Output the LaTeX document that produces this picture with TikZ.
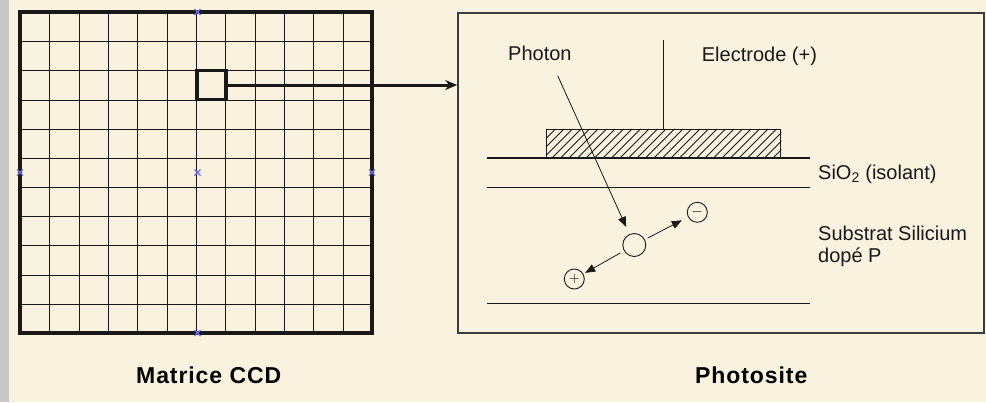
\documentclass[tikz,border=0pt]{standalone}
\usepackage{fontspec}
\setmainfont{Liberation Sans}
\usetikzlibrary{arrows.meta, positioning}
\definecolor{paper}{RGB}{249,242,222}
\definecolor{strip}{RGB}{200,200,200}
\definecolor{handle}{RGB}{110,110,240}
\definecolor{ink}{RGB}{25,25,25}

\begin{document}
\begin{tikzpicture}[x=1pt, y=-1pt,
    tag/.style={inner sep=0pt, anchor=base west, font=\fontsize{20}{22}\selectfont, text=ink},
    heading/.style={inner sep=0pt, anchor=base west,
                    font=\fontsize{23}{26}\selectfont\bfseries\addfontfeature{LetterSpace=4}},
    grid line/.style={line width=1.3pt, draw=ink},
    layer/.style={line width=1.1pt, draw=ink},
    charge/.style={draw=ink, circle, line width=0.9pt, inner sep=0pt, minimum size=20pt,
                   font=\fontsize{14}{14}\selectfont},
    carrier/.style={-{Triangle[length=10pt,width=8pt]}, line width=0.8pt, draw=ink},
    >=Stealth
  ]
    \useasboundingbox (0,0) rectangle (986,402);
    \fill[paper] (0,0) rectangle (986,402);
    \fill[strip] (0,0) rectangle (9,402);

    % CCD matrix, lines snapped to pixel centres
    \foreach \i in {1,...,11}
      \draw[grid line] ({round(20+\i*352/12)+0.5},12) -- ++(0,321);
    \foreach \j in {1,...,10}
      \draw[grid line] (20,{round(12+\j*321/11)+0.5}) -- ++(352,0);
    \draw[line width=3.6pt, draw=ink] (20,12) rectangle (372,333);
    \node[draw=ink, line width=3.2pt, minimum size=29pt, inner sep=0pt] (cell) at (211.5,85) {};
    \foreach \p in {(197.5,12),(20,172.5),(197.5,172.5),(372,172.5),(197.5,333)}
      \draw[handle, line width=1.1pt] \p +(-3,-3) -- +(3,3) +(-3,3) -- +(3,-3);
    \node[heading] (matrix) at (136,383) {Matrice CCD};

    % photosite
    \node[draw=ink!85, line width=1.6pt, minimum width=526pt, minimum height=320pt,
          inner sep=0pt] (site) at (721,172.7) {};
    \draw[line width=3pt, draw=ink, -{Stealth[length=12pt,width=10pt]}]
      (cell.east) -- (cell.east -| site.west);

    \draw[layer] (487,158) -- (810,158);
    \draw[layer] (487,187.5) -- (810,187.5);
    \draw[layer] (487,303.5) -- (810,303.5);

    \node[draw=ink, line width=1.1pt, fill=paper, minimum width=234pt, minimum height=28.7pt,
          inner sep=0pt] (gate) at (663.7,143.6) {};
    \begin{scope}
      \clip (gate.south west) rectangle (gate.north east);
      \foreach \x in {518,526.5,...,790}
        \draw[line width=0.8pt, ink] (\x,158) -- ++(29,-29);
    \end{scope}
    \draw[line width=1.1pt, ink] (gate.north) -- ++(0,-88.6);

    \node[tag] (photon) at (508,60.7) {Photon};
    \node[tag] (electrode) at (701.7,61.5) {Electrode (+)};
    \node[tag] (oxide) at (818,179.5) {SiO\textsubscript{2} (isolant)};
    \node[tag] (substrate) at (818,240) {Substrat Silicium};
    \node[tag] (doping) at ([yshift=-22pt]substrate.base west) {dopé P};

    \node[charge, minimum size=23pt] (pair) at (634.3,245) {};
    \node[charge] (electron) at (697.3,212.3) {$-$};
    \node[charge] (hole) at (574.3,279) {$+$};
    \coordinate (ray) at (557.7,75.7);
    \draw[carrier, shorten >=8pt] (ray) -- (pair);
    \draw[carrier, shorten <=3pt, shorten >=7pt] (pair) -- (electron);
    \draw[carrier, shorten <=4pt, shorten >=2pt] (pair) -- (hole);

    \node[heading] (sitename) at (695,383) {Photosite};
  \end{tikzpicture}
\end{document}
